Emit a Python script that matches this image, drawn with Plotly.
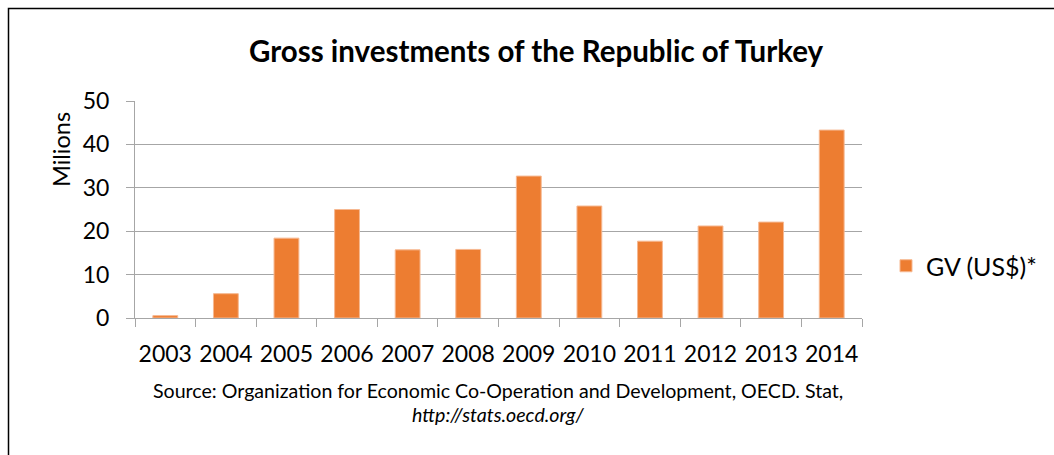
import plotly.graph_objects as go

years = ["2003", "2004", "2005", "2006", "2007", "2008",
         "2009", "2010", "2011", "2012", "2013", "2014"]
gv_musd = [0.55, 5.6, 18.4, 25.0, 15.7, 15.8, 32.7, 25.8, 17.7, 21.2, 22.1, 43.3]
y_ticks = [0, 10, 20, 30, 40, 50]

W, H = 1054, 455
L, R, T, B = 135, 192, 101, 137
PW, PH = W - L - R, H - T - B

def px_x(p):
    return (p - L) / PW

def px_y(p):
    return (H - B - p) / PH

FONT = "Lato"
GRID = "#A6A6A6"
BAR = "#ED7D31"

fig = go.Figure()
fig.add_trace(go.Bar(
    x=years, y=gv_musd, name="GV (US$)*",
    marker=dict(color=BAR, line=dict(color="#F6B891", width=1)),
))

fig.update_layout(
    width=W, height=H,
    margin=dict(l=L, r=R, t=T, b=B),
    paper_bgcolor="white", plot_bgcolor="white",
    bargap=0.59,
    font=dict(family=FONT, color="black"),
    showlegend=True,
    legend=dict(x=px_x(886), y=px_y(266), xanchor="left", yanchor="middle",
                font=dict(size=25, family=FONT), bgcolor="rgba(0,0,0,0)",
                itemwidth=30),
    xaxis=dict(type="category", tickson="boundaries", ticks="outside",
               ticklen=8, tickcolor=GRID, showline=True, linecolor=GRID,
               linewidth=1, showgrid=False, tickangle=0,
               tickfont=dict(size=23, family=FONT), ticklabelstandoff=15),
    yaxis=dict(range=[0, 50], tickvals=y_ticks, ticks="outside", ticklen=8,
               tickcolor=GRID, showline=True, linecolor=GRID, linewidth=1,
               showgrid=True, gridcolor=GRID, gridwidth=1, zeroline=False,
               tickfont=dict(size=23, family=FONT), ticklabelstandoff=12),
)

fig.add_annotation(
    text="<b>Gross investments of the Republic of Turkey</b>",
    xref="paper", yref="paper", x=px_x(536), y=px_y(50),
    xanchor="center", yanchor="middle", showarrow=False,
    font=dict(size=29.5, family=FONT, color="black"),
)
fig.add_annotation(
    text="Milions", textangle=-90,
    xref="paper", yref="paper", x=px_x(61), y=px_y(150),
    xanchor="center", yanchor="middle", showarrow=False,
    font=dict(size=23.5, family=FONT, color="black"),
)
fig.add_annotation(
    text="Source: Organization for Economic Co-Operation and Development, OECD. Stat,",
    xref="paper", yref="paper", x=px_x(498), y=px_y(390),
    xanchor="center", yanchor="middle", showarrow=False,
    font=dict(size=19.6, family=FONT, color="black"),
)
fig.add_annotation(
    text="<i>http://stats.oecd.org/</i>",
    xref="paper", yref="paper", x=px_x(498), y=px_y(414),
    xanchor="center", yanchor="middle", showarrow=False,
    font=dict(size=19.6, family=FONT, color="black"),
)

# outer frame
fig.add_shape(type="rect", xref="paper", yref="paper",
              x0=px_x(8.5), x1=px_x(1070), y0=px_y(8.5), y1=px_y(470),
              line=dict(color="black", width=1.5), layer="below")

fig.write_html("out.html")
